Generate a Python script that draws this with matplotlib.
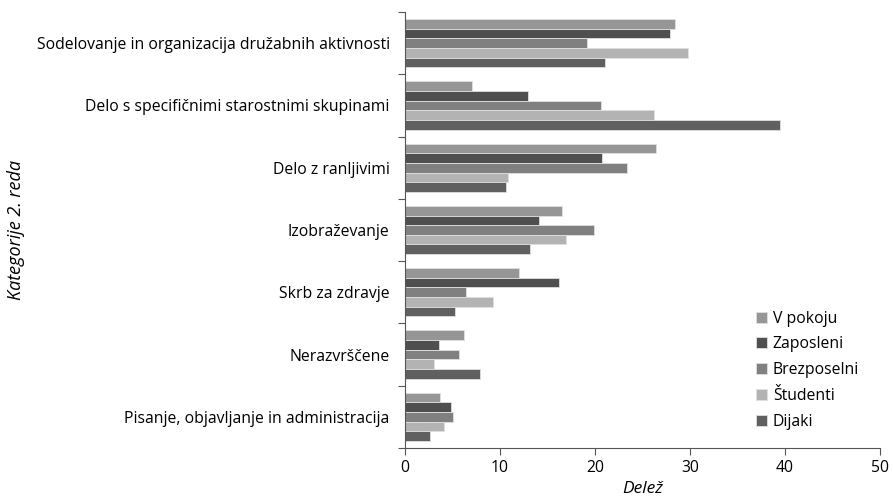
import matplotlib.pyplot as plt
import numpy as np

plt.rcParams['font.family'] = ['Open Sans', 'DejaVu Sans']

# categories (top to bottom)
categories = ['Sodelovanje in organizacija družabnih aktivnosti',
              'Delo s specifičnimi starostnimi skupinami',
              'Delo z ranljivimi',
              'Izobraževanje',
              'Skrb za zdravje',
              'Nerazvrščene',
              'Pisanje, objavljanje in administracija']
series = ['V pokoju', 'Zaposleni', 'Brezposelni', 'Študenti', 'Dijaki']

v_pokoju = [28.4, 7.0, 26.4, 16.5, 12.0, 6.2, 3.7]
zaposleni = [27.9, 12.9, 20.7, 14.1, 16.2, 3.6, 4.8]
brezposelni = [19.2, 20.6, 23.4, 19.9, 6.4, 5.7, 5.0]
studenti = [29.8, 26.2, 10.8, 16.9, 9.3, 3.1, 4.1]
dijaki = [21.1, 39.5, 10.6, 13.2, 5.3, 7.9, 2.6]

values = [v_pokoju, zaposleni, brezposelni, studenti, dijaki]
colors = ['#969696', '#4f4f4f', '#808080', '#b3b3b3', '#606060']

fig = plt.figure(figsize=(8.93, 4.97), dpi=100)
ax = fig.add_axes([405 / 893, 1 - 448 / 497, 475 / 893, 436 / 497])

y = np.arange(len(categories))
h = 0.155
for j, (name, vals) in enumerate(zip(series, values)):
    ax.barh(y + (j - 2) * h, vals, height=h, color=colors[j],
            edgecolor='#e0e0e0', linewidth=0.6, label=name)

ax.set_xlim(0, 50)
ax.set_ylim(len(categories) - 0.5, -0.5)
ax.set_xticks(range(0, 51, 10))

# category separators as ticks, labels at centres
ax.set_yticks(np.arange(-0.5, len(categories), 1))
ax.set_yticklabels([])
ax.set_yticks(y, minor=True)
ax.set_yticklabels(categories, minor=True, fontsize=11.3)
ax.tick_params(axis='y', which='minor', length=0, pad=11)
ax.tick_params(axis='y', which='major', length=5, color='#555555')
ax.tick_params(axis='x', length=5, color='#555555', labelsize=11.3, pad=4)

for s in ['top', 'right']:
    ax.spines[s].set_visible(False)
for s in ['left', 'bottom']:
    ax.spines[s].set_color('#555555')

ax.set_xlabel('Delež', fontsize=12.5, style='italic', labelpad=3)
fig.text(16 / 893, 1 - 230 / 497, 'Kategorije 2. reda', rotation=90,
         fontsize=13, style='italic', ha='center', va='center')

ax.legend(loc='lower left', bbox_to_anchor=(0.71, 0.01), frameon=False,
          fontsize=11.3, handlelength=0.7, handleheight=0.7,
          handletextpad=0.35, labelspacing=0.62)

fig.savefig('out.png', dpi=100)
